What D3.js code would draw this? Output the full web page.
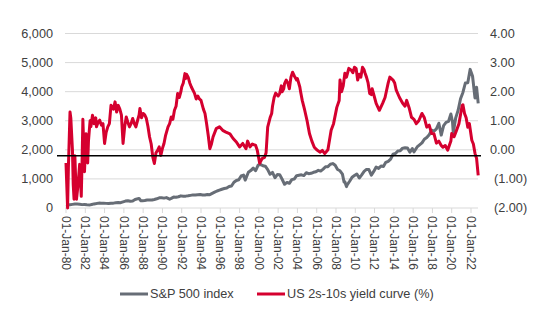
<!DOCTYPE html>
<html>
<head>
<meta charset="utf-8">
<script src="https://cdn.jsdelivr.net/npm/d3@7"></script>
<style>
  body { margin: 0; background: #fff; }
  svg { display: block; font-family: "Liberation Sans", Arial, sans-serif; }
</style>
</head>
<body>
<svg id="chart" width="550" height="330"></svg>
<script>
// S&P 500 index level (left axis)
var spxDates = [
  "1980-01","1980-03","1980-06","1980-09","1980-12","1981-03","1981-06","1981-09","1981-12",
  "1982-03","1982-07","1982-09","1982-12","1983-03","1983-06","1983-09","1983-12",
  "1984-03","1984-06","1984-09","1984-12","1985-03","1985-06","1985-09","1985-12",
  "1986-03","1986-06","1986-09","1986-12","1987-03","1987-08","1987-10","1987-12",
  "1988-03","1988-06","1988-09","1988-12","1989-03","1989-06","1989-09","1989-12",
  "1990-03","1990-06","1990-10","1990-12","1991-03","1991-06","1991-09","1991-12",
  "1992-03","1992-06","1992-09","1992-12","1993-03","1993-06","1993-09","1993-12",
  "1994-03","1994-06","1994-09","1994-12","1995-03","1995-06","1995-09","1995-12",
  "1996-03","1996-06","1996-09","1996-12","1997-03","1997-06","1997-09","1997-12",
  "1998-03","1998-06","1998-08","1998-12","1999-03","1999-06","1999-09","1999-12",
  "2000-03","2000-06","2000-09","2000-12","2001-03","2001-06","2001-09","2001-12",
  "2002-03","2002-06","2002-09","2002-12","2003-03","2003-06","2003-09","2003-12",
  "2004-03","2004-06","2004-09","2004-12","2005-03","2005-06","2005-09","2005-12",
  "2006-03","2006-06","2006-09","2006-12","2007-03","2007-06","2007-09","2007-12",
  "2008-03","2008-06","2008-09","2008-11","2008-12","2009-02","2009-03","2009-06","2009-09","2009-12",
  "2010-03","2010-06","2010-09","2010-12","2011-03","2011-06","2011-09","2011-12",
  "2012-03","2012-06","2012-09","2012-12","2013-03","2013-06","2013-09","2013-12",
  "2014-03","2014-06","2014-09","2014-12","2015-03","2015-06","2015-09","2015-12",
  "2016-02","2016-06","2016-09","2016-12","2017-03","2017-06","2017-09","2017-12",
  "2018-03","2018-06","2018-09","2018-12","2019-03","2019-06","2019-09","2019-12",
  "2020-02","2020-03","2020-06","2020-09","2020-12","2021-03","2021-06","2021-09","2021-12",
  "2022-03","2022-06","2022-08","2022-10"
];
var spxValues = [
  114,102,115,125,136,136,131,116,122,
  112,107,120,141,153,168,166,165,
  159,153,166,167,181,192,182,211,
  238,251,231,242,291,330,252,247,
  258,273,271,277,294,317,349,353,
  339,358,304,330,375,371,387,417,
  403,408,418,435,451,450,459,466,
  445,444,462,459,500,544,584,615,
  645,670,687,740,757,885,947,970,
  1101,1133,957,1229,1286,1372,1282,1469,
  1498,1454,1436,1320,1160,1224,1040,1148,
  1147,989,815,880,848,975,996,1112,
  1126,1140,1114,1212,1181,1191,1228,1248,
  1295,1270,1336,1418,1421,1503,1527,1468,
  1323,1280,1166,896,903,735,798,919,1057,1115,
  1169,1031,1141,1258,1326,1321,1131,1258,
  1408,1362,1441,1426,1569,1606,1682,1848,
  1872,1960,1972,2059,2068,2063,1920,2044,
  1932,2099,2168,2239,2363,2423,2519,2674,
  2641,2718,2914,2507,2834,2942,2977,3231,
  2954,2585,3100,3363,3756,3973,4298,4308,4766,
  4530,3785,4150,3600
];

// US 10y minus 2y spread, % (right axis)
var curveDates = [
  "1980-01","1980-03","1980-04","1980-06","1980-07","1980-09","1980-10","1980-11","1980-12",
  "1981-01","1981-02","1981-04","1981-06","1981-07","1981-08","1981-09","1981-10","1981-11","1981-12",
  "1982-02","1982-03","1982-04","1982-05","1982-07","1982-08","1982-10","1982-12",
  "1983-02","1983-03","1983-05","1983-07","1983-09","1983-11",
  "1984-01","1984-03","1984-05","1984-07","1984-09","1984-12",
  "1985-02","1985-04","1985-06","1985-08","1985-10","1985-12",
  "1986-02","1986-04","1986-06","1986-08","1986-10","1986-12",
  "1987-02","1987-04","1987-06","1987-08","1987-09","1987-11",
  "1988-01","1988-03","1988-05","1988-07","1988-09","1988-11",
  "1989-01","1989-03","1989-05","1989-07","1989-09","1989-11",
  "1990-01","1990-03","1990-05","1990-08","1990-10","1990-12",
  "1991-02","1991-04","1991-06","1991-08","1991-10","1991-12",
  "1992-01","1992-03","1992-05","1992-06","1992-07","1992-09","1992-11",
  "1993-01","1993-03","1993-05","1993-07","1993-09","1993-11",
  "1994-01","1994-04","1994-06","1994-08","1994-10","1994-12",
  "1995-02","1995-04","1995-08","1995-12","1996-04","1996-08",
  "1997-01","1997-05","1997-09","1998-01","1998-05","1998-09","1998-11",
  "1999-02","1999-05","1999-09","1999-11",
  "2000-02","2000-05","2000-08","2000-10","2000-12",
  "2001-03","2001-05","2001-06","2001-08","2001-10","2002-01","2002-03","2002-05","2002-06","2002-08","2002-09","2002-11",
  "2003-01","2003-03","2003-05","2003-07","2003-09","2003-12","2004-01","2004-04","2004-05","2004-07","2004-10",
  "2005-01","2005-04","2005-07","2005-10","2006-01","2006-05","2006-08","2006-11","2007-03","2007-07",
  "2007-10","2008-02","2008-05","2008-06","2008-08","2008-10","2008-12",
  "2009-02","2009-05","2009-08","2009-10","2009-12","2010-02","2010-04","2010-06","2010-08","2010-10","2010-12",
  "2011-01","2011-03","2011-05","2011-07","2011-09","2011-10","2012-01","2012-03","2012-07","2012-11",
  "2013-02","2013-04","2013-06","2013-08","2013-12","2014-02","2014-04","2014-08","2014-12",
  "2015-03","2015-05","2015-08","2015-11","2016-02","2016-05","2016-08","2016-12",
  "2017-03","2017-06","2017-09","2017-12","2018-03","2018-06","2018-09","2018-12",
  "2019-02","2019-05","2019-08","2019-12",
  "2020-01","2020-04","2020-07","2020-10",
  "2021-02","2021-03","2021-05","2021-07","2021-09","2021-11",
  "2022-02","2022-04","2022-06","2022-08","2022-10"
];
var curveValues = [
  -0.45,-2.0,-0.6,1.3,1.1,0.0,-1.2,-1.7,-0.2,
  -1.0,-1.7,-1.2,-0.5,-1.0,-1.6,-0.4,1.05,0.2,-0.75,
  0.55,-0.1,-0.45,0.3,1.0,0.8,1.19,0.9,
  1.1,0.79,0.95,1.02,0.85,0.9,
  0.22,0.6,0.79,0.9,1.53,1.4,
  1.65,1.3,1.53,1.4,1.19,0.22,
  0.8,1.13,0.95,0.79,0.9,1.08,
  0.9,0.79,1.0,1.2,1.42,1.1,
  1.25,1.2,1.08,0.8,0.44,0.2,
  -0.25,-0.47,-0.1,-0.02,0.1,-0.19,
  0.05,0.22,0.5,0.79,0.9,1.13,
  1.05,1.36,1.5,1.94,1.8,2.0,
  2.16,2.3,2.62,2.45,2.6,2.5,2.3,
  2.16,2.05,1.94,1.75,1.85,1.75,
  1.7,1.4,1.25,0.9,0.5,0.04,
  0.2,0.44,0.73,0.79,0.67,0.61,
  0.55,0.39,0.27,0.1,0.22,0.04,0.3,
  0.1,0.2,0.15,-0.01,
  -0.46,-0.3,-0.26,-0.1,0.78,
  1.1,1.25,1.5,1.8,1.95,1.85,1.94,2.2,2.0,2.1,2.28,2.4,
  2.3,2.1,2.5,2.67,2.55,2.4,2.45,2.16,2.0,1.7,1.37,
  1.0,0.56,0.3,0.09,0.0,-0.08,-0.02,-0.13,0.0,0.67,
  0.9,1.46,1.7,2.4,2.0,2.2,2.63,
  2.5,2.8,2.74,2.65,2.84,2.8,2.4,2.6,2.5,2.84,2.75,
  2.65,2.5,2.3,1.94,1.9,2.1,1.8,1.6,1.36,1.6,
  1.8,2.05,2.3,2.5,2.4,2.3,2.05,1.8,1.6,
  1.5,1.7,1.45,1.12,1.05,0.9,1.0,1.25,
  1.1,0.78,0.85,0.56,0.55,0.23,0.3,0.15,
  0.09,0.15,-0.01,0.3,
  0.56,0.45,0.67,0.9,
  1.53,1.55,1.25,1.1,0.78,0.9,
  0.33,0.2,-0.12,-0.3,-0.88
];

var leftTicks = [0, 1000, 2000, 3000, 4000, 5000, 6000];
var rightTicks = [-2, -1, 0, 1, 2, 3, 4];
var tickYears = d3.range(1980, 2023, 2);
var zeroLine = -0.2;
var seriesNames = ["S&P 500 index", "US 2s-10s yield curve (%)"];
var colors = ["#676d76", "#d5002f"];

var svg = d3.select("#chart");
var parse = d3.timeParse("%Y-%m");

var x = d3.scaleTime()
  .domain([new Date(1980, 0, 1), new Date(2022, 0, 1)])
  .range([66, 471]);
var yLeft = d3.scaleLinear().domain([0, 6000]).range([208, 33.5]);
var yRight = d3.scaleLinear().domain([-2, 4]).range([208, 33.5]);

var spx = spxDates.map(function(d, i) { return { date: parse(d), value: spxValues[i] }; });
var curve = curveDates.map(function(d, i) { return { date: parse(d), value: curveValues[i] }; });

// gridlines
svg.append("g")
  .selectAll("line")
  .data(leftTicks.slice(1))
  .join("line")
  .attr("x1", 65).attr("x2", 478)
  .attr("y1", function(d) { return yLeft(d); })
  .attr("y2", function(d) { return yLeft(d); })
  .attr("stroke", "#d9d9d9")
  .attr("stroke-width", 1);

// x axis line + ticks
svg.append("line")
  .attr("x1", 65).attr("x2", 478)
  .attr("y1", 208).attr("y2", 208)
  .attr("stroke", "#d9d9d9");

var tickDates = tickYears.map(function(y) { return new Date(y, 0, 1); });
svg.append("g")
  .selectAll("line")
  .data(tickDates)
  .join("line")
  .attr("x1", function(d) { return x(d); })
  .attr("x2", function(d) { return x(d); })
  .attr("y1", 208).attr("y2", 213)
  .attr("stroke", "#d9d9d9");

var fmtDate = d3.timeFormat("%d-%b-%y");
svg.append("g")
  .selectAll("text")
  .data(tickDates)
  .join("text")
  .attr("transform", function(d) { return "translate(" + x(d) + ",216) rotate(90)"; })
  .attr("dy", "0.35em")
  .attr("font-size", 12)
  .attr("fill", "#404040")
  .text(function(d) { return fmtDate(d); });

// left axis labels
svg.append("g")
  .selectAll("text")
  .data(leftTicks)
  .join("text")
  .attr("x", 53)
  .attr("y", function(d) { return yLeft(d); })
  .attr("dy", "0.35em")
  .attr("text-anchor", "end")
  .attr("font-size", 12.7)
  .attr("fill", "#404040")
  .text(d3.format(",.0f"));

// right axis labels
var f2 = d3.format(".2f");
svg.append("g")
  .selectAll("text")
  .data(rightTicks)
  .join("text")
  .attr("x", function(d) { return d < 0 ? 494 : 490; })
  .attr("y", function(d) { return yRight(d); })
  .attr("dy", "0.35em")
  .attr("font-size", 12.7)
  .attr("fill", "#404040")
  .text(function(d) { return d < 0 ? "(" + f2(-d) + ")" : f2(d); });

// lines
var lineLeft = d3.line()
  .x(function(d) { return x(d.date); })
  .y(function(d) { return yLeft(d.value); });
var lineRight = d3.line()
  .x(function(d) { return x(d.date); })
  .y(function(d) { return yRight(d.value); });

svg.append("path")
  .datum(spx)
  .attr("fill", "none")
  .attr("stroke", colors[0])
  .attr("stroke-width", 3)
  .attr("stroke-linejoin", "round")
  .attr("d", lineLeft);

svg.append("path")
  .datum(curve)
  .attr("fill", "none")
  .attr("stroke", colors[1])
  .attr("stroke-width", 3)
  .attr("stroke-linejoin", "round")
  .attr("d", lineRight);

// black reference line
svg.append("line")
  .attr("x1", 57).attr("x2", 481)
  .attr("y1", yRight(zeroLine)).attr("y2", yRight(zeroLine))
  .attr("stroke", "#000")
  .attr("stroke-width", 1.5);

// legend
var legendX = [120, 257];
var legend = svg.append("g")
  .selectAll("g")
  .data(seriesNames)
  .join("g")
  .attr("transform", function(d, i) { return "translate(" + legendX[i] + ",294)"; });
legend.append("line")
  .attr("x1", 0).attr("x2", 28)
  .attr("stroke", function(d, i) { return colors[i]; })
  .attr("stroke-width", 3);
legend.append("text")
  .attr("x", 30)
  .attr("dy", "0.35em")
  .attr("font-size", 12.7)
  .attr("fill", "#404040")
  .text(function(d) { return d; });
</script>
</body>
</html>
